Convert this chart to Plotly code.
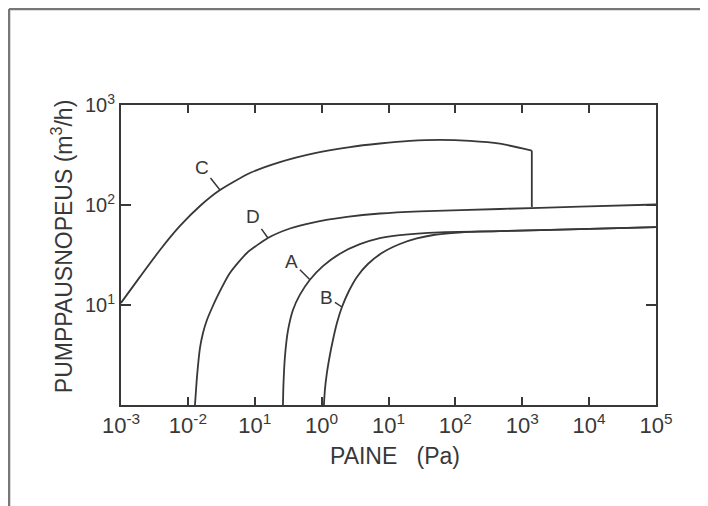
import numpy as np
import plotly.graph_objects as go

# ---- data ----
x_tick_vals = [1e-3, 1e-2, 1e-1, 1e0, 1e1, 1e2, 1e3, 1e4, 1e5]
x_tick_text = ["10<sup>-3</sup>", "10<sup>-2</sup>", "10<sup>1</sup>", "10<sup>0</sup>", "10<sup>1</sup>",
               "10<sup>2</sup>", "10<sup>3</sup>", "10<sup>4</sup>", "10<sup>5</sup>"]
y_tick_vals = [10, 100, 1000]
y_tick_text = ["10<sup>1</sup>", "10<sup>2</sup>", "10<sup>3</sup>"]

c_p = [0.001, 0.00192, 0.00383, 0.00762, 0.01517, 0.0302, 0.0847, 0.238, 0.794, 2.65, 7.43,
       20.9, 58.6, 165, 462, 1390]
c_s = [10.5, 19.1, 35.5, 61.7, 97.7, 141, 209, 269, 331, 380, 412, 437, 447, 437, 410, 350]
c_drop_p = [1390, 1390]
c_drop_s = [350, 95.5]

d_p = [0.01276, 0.01321, 0.01368, 0.01517, 0.01683, 0.01928, 0.02291, 0.02723, 0.04256, 0.07638,
       0.1574, 0.3357, 0.7413, 2.388, 7.43, 29.4, 462, 7261, 100000]
d_s = [1.0, 1.38, 1.91, 3.72, 5.25, 7.08, 9.33, 12.0, 20.9, 33.1, 46.8, 58.2, 66.8, 75.9, 82.2,
       86.5, 91.2, 96.2, 101.2]

a_p = [0.264, 0.2685, 0.2825, 0.3133, 0.3724, 0.4742, 0.6683, 1.045, 1.879, 3.733, 7.43, 14.79,
       58.6, 462, 7261, 100000]
a_s = [1.0, 1.58, 3.02, 5.50, 8.91, 12.7, 17.9, 24.5, 32.6, 40.6, 46.7, 50.0, 53.3, 54.8, 57.3, 60.0]

b_p = [1.081, 1.119, 1.199, 1.330, 1.476, 1.694, 2.014, 2.559, 3.373, 4.920, 7.96, 14.79, 26.5,
       49.3, 98.2, 232, 462, 7261, 100000]
b_s = [1.0, 1.41, 2.09, 3.16, 4.47, 6.61, 9.55, 13.8, 19.1, 25.7, 33.1, 40.7, 46.3, 50.4, 52.7,
       54.1, 54.8, 57.3, 60.0]

labels = ["C", "D", "A", "B"]

INK = "#383838"
FONT = "Liberation Sans"

fig = go.Figure()
line = dict(color=INK, width=1.8, shape="spline", smoothing=0.6)
for px_, py_ in [(c_p, c_s), (d_p, d_s), (a_p, a_s), (b_p, b_s)]:
    fig.add_trace(go.Scatter(x=px_, y=py_, mode="lines", line=line, showlegend=False, hoverinfo="skip"))
fig.add_trace(go.Scatter(x=c_drop_p, y=c_drop_s, mode="lines", line=dict(color=INK, width=1.8),
                         showlegend=False, hoverinfo="skip"))

# curve labels with short leader lines
anchors = [(c_p[5], c_s[5], -18, -23), (d_p[10], d_s[10], -15, -21),
           (a_p[6], a_s[6], -18, -18), (b_p[6], b_s[6], -15, -10)]
for lab, (xv, yv, ax, ay) in zip(labels, anchors):
    fig.add_annotation(x=np.log10(xv), y=np.log10(yv), xref="x", yref="y", text=lab,
                       showarrow=True, arrowhead=0, arrowwidth=1.5, arrowcolor=INK,
                       ax=ax, ay=ay, standoff=0, font=dict(family=FONT, size=19, color=INK))

# axis titles
fig.add_annotation(x=0.512, y=-0.17, xref="paper", yref="paper", text="PAINE   (Pa)",
                   showarrow=False, font=dict(family=FONT, size=23, color=INK),
                   xanchor="center", yanchor="middle")
fig.add_annotation(x=-0.111, y=0.528, xref="paper", yref="paper",
                   text="PUMPPAUSNOPEUS (m<sup>3</sup>/h)", textangle=-90,
                   showarrow=False, font=dict(family=FONT, size=23, color=INK),
                   xanchor="center", yanchor="middle")

# scan frame (top and left edges)
fig.add_shape(type="line", xref="paper", yref="paper", x0=-0.2093, x1=1.2, y0=1.32, y1=1.32,
              line=dict(color="#777777", width=2.5))
fig.add_shape(type="line", xref="paper", yref="paper", x0=-0.2093, x1=-0.2093, y0=1.32, y1=-0.4,
              line=dict(color="#777777", width=2.5))

axis_common = dict(type="log", showgrid=False, zeroline=False, showline=True, linewidth=2,
                   linecolor=INK, ticks="inside", tickwidth=2, tickcolor=INK, mirror="ticks")
fig.update_xaxes(range=[-3, 5], tickvals=x_tick_vals, ticktext=x_tick_text, ticklen=8,
                 tickfont=dict(family=FONT, size=22, color=INK), **axis_common)
fig.update_yaxes(range=[0, 3], tickvals=y_tick_vals, ticktext=y_tick_text, ticklen=10,
                 tickfont=dict(family=FONT, size=20, color=INK), **axis_common)

fig.update_layout(width=708, height=506, margin=dict(l=113, r=60, t=97, b=109),
                  paper_bgcolor="white", plot_bgcolor="white")

fig.write_html("out.html")
